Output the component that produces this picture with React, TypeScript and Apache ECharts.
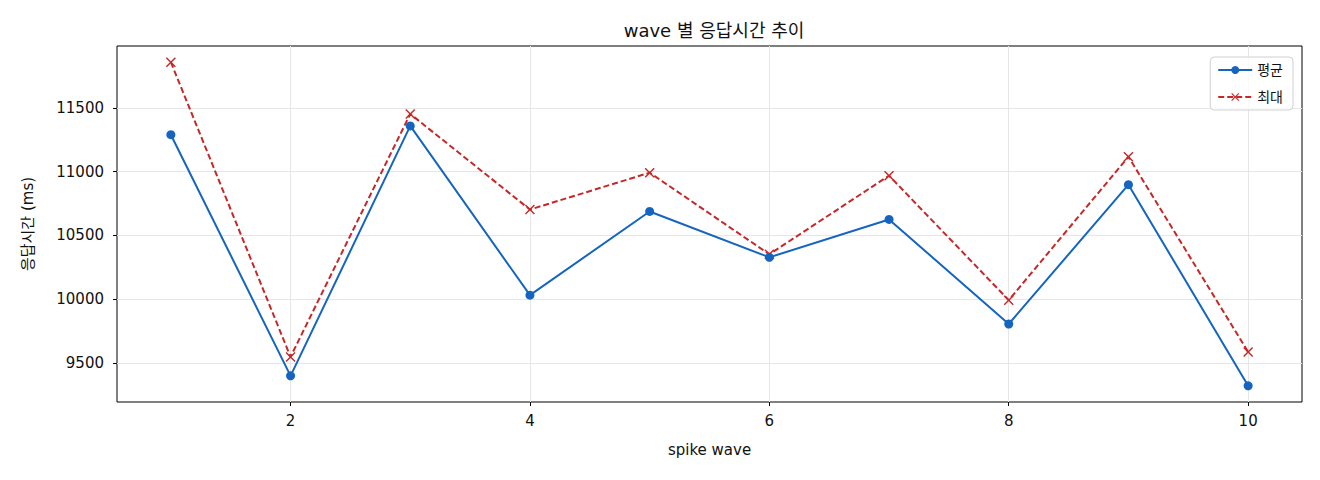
import { useEffect, useRef } from 'react';
import * as echarts from 'echarts';

const waves = [1, 2, 3, 4, 5, 6, 7, 8, 9, 10];
const avgMs = [11290, 9398, 11359, 10031, 10688, 10328, 10625, 9805, 10898, 9320];
const maxMs = [11859, 9547, 11453, 10703, 10992, 10352, 10969, 9992, 11117, 9586];
const xTicks = [2, 4, 6, 8, 10];
const yTicks = [9500, 10000, 10500, 11000, 11500];

const FONT = '"DejaVu Sans", "Noto Sans CJK KR", sans-serif';
const X_MARK = 'path://M0,1L1,0L5,4L9,0L10,1L6,5L10,9L9,10L5,6L1,10L0,9L4,5Z';

export default function App() {
  const chartRef = useRef<HTMLDivElement>(null);

  useEffect(() => {
    if (!chartRef.current) return;
    document.body.style.margin = '0';
    const chart = echarts.init(chartRef.current, null, { renderer: 'svg' });

    const gridLine = { show: true, lineStyle: { color: '#e6e6e6', width: 1 } };

    chart.setOption({
      animation: false,
      textStyle: { fontFamily: FONT },
      title: {
        text: 'wave 별 응답시간 추이',
        left: 709,
        textAlign: 'center',
        top: 16,
        textStyle: { fontSize: 18, fontWeight: 'normal', color: '#111', fontFamily: FONT },
      },
      legend: {
        right: 27,
        top: 57,
        orient: 'vertical',
        itemGap: 13,
        itemWidth: 34,
        itemHeight: 10,
        padding: [6, 10, 6, 7],
        borderColor: '#d0d0d0',
        borderWidth: 1,
        borderRadius: 4,
        backgroundColor: 'rgba(255,255,255,0.8)',
        textStyle: { fontSize: 14, color: '#111', fontFamily: FONT },
        data: ['평균', '최대'],
      },
      grid: {
        left: 117,
        right: 18,
        top: 46,
        bottom: 78,
        show: true,
        borderColor: '#000',
        borderWidth: 1,
        backgroundColor: 'transparent',
      },
      xAxis: {
        type: 'value',
        min: 0.55,
        max: 10.45,
        name: 'spike wave',
        nameLocation: 'middle',
        nameGap: 40,
        nameTextStyle: { fontSize: 15, color: '#111', fontFamily: FONT },
        axisLine: { show: false },
        axisTick: { show: true, length: 4, customValues: xTicks, lineStyle: { color: '#000' } },
        axisLabel: { customValues: xTicks, fontSize: 15, color: '#111', margin: 11, fontFamily: FONT },
        splitLine: gridLine,
      },
      yAxis: {
        type: 'value',
        min: 9193,
        max: 11986,
        name: '응답시간 (ms)',
        nameLocation: 'middle',
        nameGap: 82,
        nameRotate: 90,
        nameTextStyle: { fontSize: 15, color: '#111', fontFamily: FONT },
        axisLine: { show: false },
        axisTick: { show: true, length: 4, customValues: yTicks, lineStyle: { color: '#000' } },
        axisLabel: {
          customValues: yTicks,
          formatter: (v: number) => String(v),
          fontSize: 15,
          color: '#111',
          margin: 13,
          fontFamily: FONT,
        },
        splitLine: gridLine,
      },
      series: [
        {
          name: '평균',
          type: 'line',
          data: waves.map((w, i) => [w, avgMs[i]]),
          symbol: 'circle',
          symbolSize: 9,
          showAllSymbol: true,
          lineStyle: { color: '#1565c0', width: 2 },
          itemStyle: { color: '#1565c0' },
          z: 3,
        },
        {
          name: '최대',
          type: 'line',
          data: waves.map((w, i) => [w, maxMs[i]]),
          symbol: X_MARK,
          symbolSize: 10,
          showAllSymbol: true,
          lineStyle: { color: '#c62828', width: 2, type: [6, 3] },
          itemStyle: { color: '#c62828' },
          z: 2,
        },
      ],
    });

    return () => chart.dispose();
  }, []);

  return <div ref={chartRef} style={{ width: 1320, height: 480 }} />;
}
